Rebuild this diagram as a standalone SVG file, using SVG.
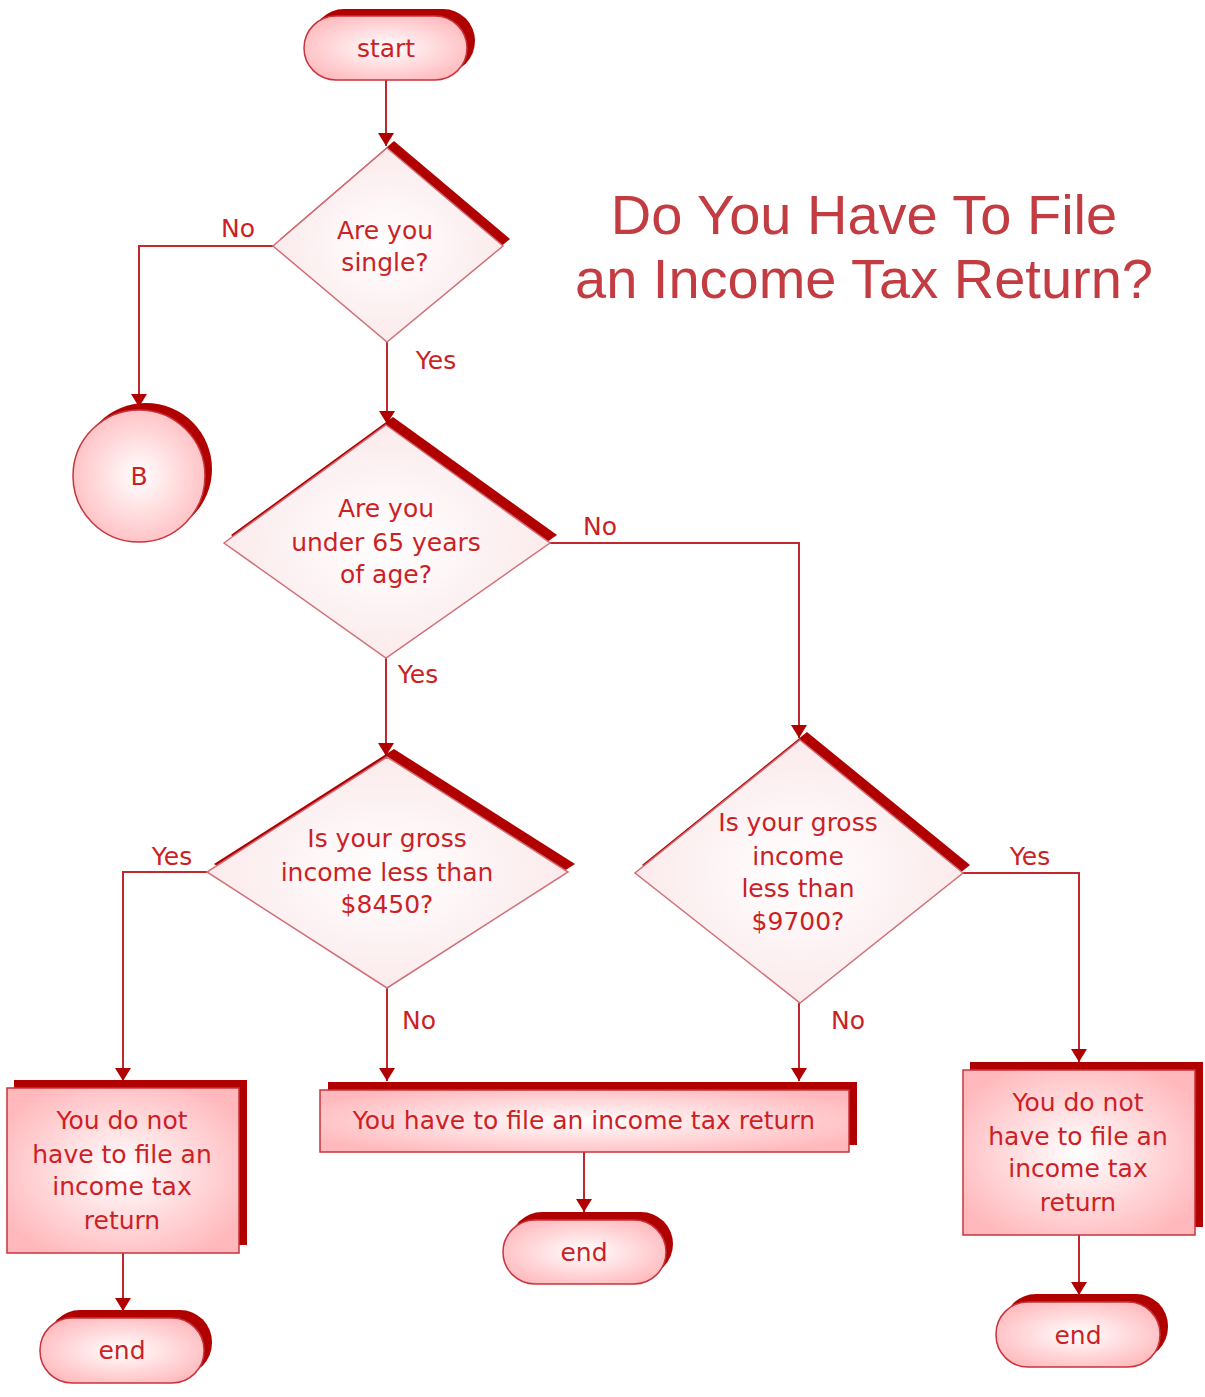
<svg xmlns="http://www.w3.org/2000/svg" width="1205" height="1397" viewBox="0 0 1205 1397">
<defs>
<radialGradient id="gPink" cx="50%" cy="50%" r="60%">
<stop offset="0" stop-color="#ffffff"/>
<stop offset="1" stop-color="#ffb8bc"/>
</radialGradient>
<radialGradient id="gDia" cx="50%" cy="50%" r="55%">
<stop offset="0" stop-color="#ffffff"/>
<stop offset="1" stop-color="#fbe8ea"/>
</radialGradient>
<marker id="arr" markerUnits="userSpaceOnUse" markerWidth="16" markerHeight="18" refX="13" refY="8" orient="auto">
<path d="M0,0 L13,8 L0,16 z" fill="#b00000"/>
</marker>
<style>
.sh{fill:#b00000;stroke:none}
.fill{fill:url(#gPink);stroke:#c8343c;stroke-width:1.5}
.dia{fill:url(#gDia);stroke:#d07078;stroke-width:1.5}
.t{font-family:"DejaVu Sans","Liberation Sans",sans-serif;font-size:25px;fill:#cc1f26;text-anchor:middle}
.title{font-family:"Liberation Sans","DejaVu Sans",sans-serif;font-size:56px;fill:#c23c42;text-anchor:middle}
.c{fill:none;stroke:#c0282e;stroke-width:2}
</style>
</defs>
<rect width="1205" height="1397" fill="#ffffff"/>

<g id="title">
<text class="title" x="864" y="234">Do You Have To File</text>
<text class="title" x="864" y="298">an Income Tax Return?</text>
</g>

<g id="connectors">
<path class="c" d="M386,80 L386,146" marker-end="url(#arr)"/>
<path class="c" d="M273,246 L139,246 L139,407" marker-end="url(#arr)"/>
<path class="c" d="M387,342 L387,424" marker-end="url(#arr)"/>
<path class="c" d="M550,543 L799,543 L799,738" marker-end="url(#arr)"/>
<path class="c" d="M386,658 L386,756" marker-end="url(#arr)"/>
<path class="c" d="M207,872 L123,872 L123,1081" marker-end="url(#arr)"/>
<path class="c" d="M387,988 L387,1081" marker-end="url(#arr)"/>
<path class="c" d="M963,873 L1079,873 L1079,1062" marker-end="url(#arr)"/>
<path class="c" d="M799,1003 L799,1081" marker-end="url(#arr)"/>
<path class="c" d="M584,1152 L584,1212" marker-end="url(#arr)"/>
<path class="c" d="M123,1253 L123,1311" marker-end="url(#arr)"/>
<path class="c" d="M1079,1235 L1079,1295" marker-end="url(#arr)"/>
<text class="t" x="238" y="237">No</text>
<text class="t" x="436" y="369">Yes</text>
<text class="t" x="600" y="535">No</text>
<text class="t" x="418" y="683">Yes</text>
<text class="t" x="172" y="865">Yes</text>
<text class="t" x="419" y="1029">No</text>
<text class="t" x="1030" y="865">Yes</text>
<text class="t" x="848" y="1029">No</text>
</g>

<g id="start">
<rect class="sh" x="312" y="9" width="163" height="64" rx="32"/>
<rect class="fill" x="304" y="16" width="163" height="64" rx="32"/>
<text class="t" x="386" y="57">start</text>
</g>

<g id="single">
<polygon class="sh" points="394,141 510,239 394,335 280,239"/>
<polygon class="dia" points="387,148 503,246 387,342 273,246"/>
<text class="t" x="385" y="239">Are you</text>
<text class="t" x="385" y="271">single?</text>
</g>

<g id="B">
<circle class="sh" cx="146" cy="469" r="66"/>
<circle class="fill" cx="139" cy="476" r="66"/>
<text class="t" x="139" y="485">B</text>
</g>

<g id="under65">
<polygon class="sh" points="393,417 557,535 393,650 231,535"/>
<polygon class="dia" points="386,425 550,543 386,658 224,543"/>
<text class="t" x="386" y="517">Are you</text>
<text class="t" x="386" y="551">under 65 years</text>
<text class="t" x="386" y="583">of age?</text>
</g>

<g id="income8450">
<polygon class="sh" points="394,749 575,864 394,980 214,864"/>
<polygon class="dia" points="387,757 568,872 387,988 207,872"/>
<text class="t" x="387" y="847">Is your gross</text>
<text class="t" x="387" y="881">income less than</text>
<text class="t" x="387" y="913">$8450?</text>
</g>

<g id="income9700">
<polygon class="sh" points="807,732 970,865 807,995 642,865"/>
<polygon class="dia" points="800,740 963,873 800,1003 635,873"/>
<text class="t" x="798" y="831">Is your gross</text>
<text class="t" x="798" y="865">income</text>
<text class="t" x="798" y="897">less than</text>
<text class="t" x="798" y="930">$9700?</text>
</g>

<g id="noFileLeft">
<rect class="sh" x="14" y="1080" width="233" height="165"/>
<rect class="fill" x="7" y="1088" width="232" height="165"/>
<text class="t" x="122" y="1129">You do not</text>
<text class="t" x="122" y="1163">have to file an</text>
<text class="t" x="122" y="1195">income tax</text>
<text class="t" x="122" y="1229">return</text>
</g>

<g id="mustFile">
<rect class="sh" x="328" y="1082" width="529" height="63"/>
<rect class="fill" x="320" y="1090" width="529" height="62"/>
<text class="t" x="584" y="1129">You have to file an income tax return</text>
</g>

<g id="noFileRight">
<rect class="sh" x="970" y="1062" width="233" height="165"/>
<rect class="fill" x="963" y="1070" width="232" height="165"/>
<text class="t" x="1078" y="1111">You do not</text>
<text class="t" x="1078" y="1145">have to file an</text>
<text class="t" x="1078" y="1177">income tax</text>
<text class="t" x="1078" y="1211">return</text>
</g>

<g id="endMid">
<rect class="sh" x="510" y="1212" width="163" height="64" rx="32"/>
<rect class="fill" x="503" y="1220" width="163" height="64" rx="32"/>
<text class="t" x="584" y="1261">end</text>
</g>

<g id="endLeft">
<rect class="sh" x="48" y="1310" width="164" height="65" rx="32"/>
<rect class="fill" x="40" y="1318" width="164" height="65" rx="32"/>
<text class="t" x="122" y="1359">end</text>
</g>

<g id="endRight">
<rect class="sh" x="1004" y="1294" width="164" height="65" rx="32"/>
<rect class="fill" x="996" y="1302" width="164" height="65" rx="32"/>
<text class="t" x="1078" y="1344">end</text>
</g>
</svg>
